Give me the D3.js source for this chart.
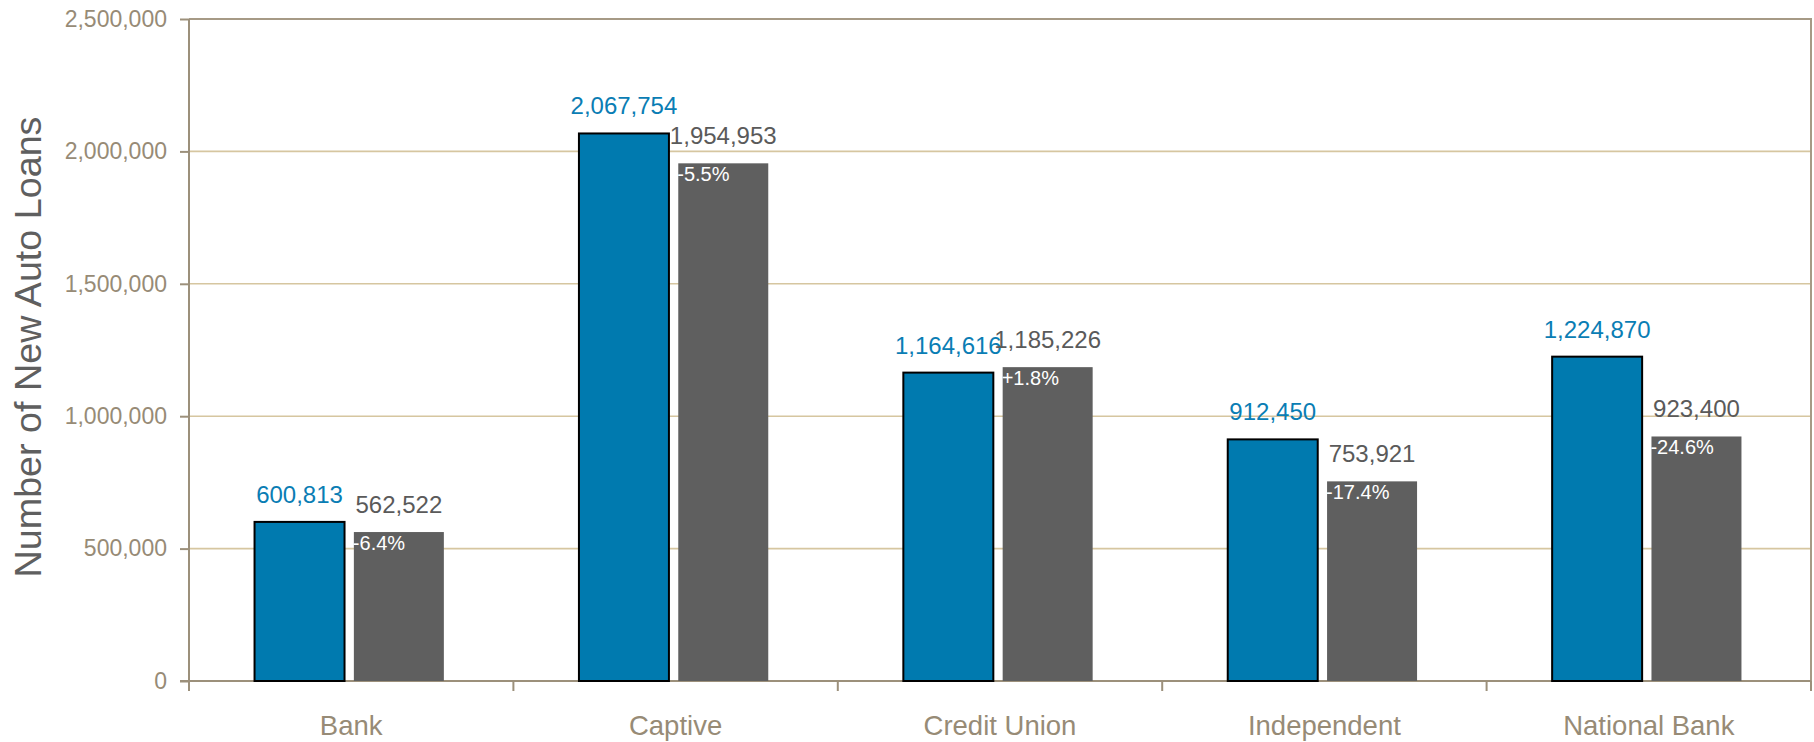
<!DOCTYPE html>
<html>
<head>
<meta charset="utf-8">
<script src="https://cdn.jsdelivr.net/npm/d3@7"></script>
<style>
    body { margin: 0; background: #fff; font-family: "Liberation Sans", Arial, sans-serif; }
    #chart-area { width: 1814px; height: 742px; }
    .axis path, .axis line { stroke: #9c907b; stroke-width: 2; }
    .axis text { fill: #978b76; font-family: "Liberation Sans", Arial, sans-serif; }
</style>
</head>
<body>
<div id="chart-area"></div>
<script>

// chart data
let categories = ["Bank", "Captive", "Credit Union", "Independent", "National Bank"];
let priorLoans = [600813, 2067754, 1164616, 912450, 1224870];
let currentLoans = [562522, 1954953, 1185226, 753921, 923400];
let yTicks = [0, 500000, 1000000, 1500000, 2000000, 2500000];

class LoanBars {

    constructor(parentElement) {
        this.parentElement = parentElement;
        this.initVis();
    }

    initVis() {
        let vis = this;

        vis.margin = {top: 19, right: 3, bottom: 61, left: 189};
        vis.width = 1814 - vis.margin.left - vis.margin.right;
        vis.height = 742 - vis.margin.top - vis.margin.bottom;

        vis.svg = d3.select("#" + vis.parentElement).append("svg")
            .attr("width", 1814)
            .attr("height", 742)
            .append("g")
            .attr("transform", "translate(" + vis.margin.left + "," + vis.margin.top + ")");

        // scales
        vis.x = d3.scaleBand()
            .domain(categories)
            .range([0, vis.width])
            .padding(0);

        vis.xInner = d3.scaleBand()
            .domain(["prior", "current"])
            .range([0, vis.x.bandwidth()])
            .paddingInner(0.094)
            .paddingOuter(0.68);

        vis.y = d3.scaleLinear()
            .domain([0, 2500000])
            .range([vis.height, 0]);

        // gridlines
        vis.svg.append("g")
            .attr("class", "grid")
            .selectAll("line")
            .data(yTicks.slice(1, -1))
            .enter().append("line")
            .attr("x1", 0)
            .attr("x2", vis.width)
            .attr("y1", d => vis.y(d))
            .attr("y2", d => vis.y(d))
            .attr("stroke", "#d6c6a0")
            .attr("stroke-width", 1.6);

        // frame top and right
        vis.svg.append("path")
            .attr("d", `M0,${vis.y(2500000)}H${vis.width}V${vis.height}`)
            .attr("fill", "none")
            .attr("stroke", "#a69a86")
            .attr("stroke-width", 2);

        // axes
        vis.yAxis = d3.axisLeft(vis.y)
            .tickValues(yTicks)
            .tickSize(9)
            .tickPadding(13)
            .tickFormat(d3.format(",d"));

        vis.yAxisGroup = vis.svg.append("g")
            .attr("class", "y-axis axis")
            .call(vis.yAxis);
        vis.yAxisGroup.select(".domain").remove();
        vis.yAxisGroup.append("line")
            .attr("y1", 0)
            .attr("y2", vis.height + 10);
        vis.yAxisGroup.selectAll("text")
            .style("font-size", "23px");

        vis.xAxisGroup = vis.svg.append("g")
            .attr("class", "x-axis axis")
            .attr("transform", "translate(0," + vis.height + ")");
        vis.xAxisGroup.append("line")
            .attr("x1", -9)
            .attr("x2", vis.width);
        vis.xAxisGroup.selectAll(".xtick")
            .data(d3.range(categories.length + 1))
            .enter().append("line")
            .attr("class", "xtick")
            .attr("x1", i => i * vis.x.step())
            .attr("x2", i => i * vis.x.step())
            .attr("y1", 0)
            .attr("y2", 10);
        vis.xAxisGroup.selectAll(".cat-label")
            .data(categories)
            .enter().append("text")
            .attr("class", "cat-label")
            .attr("x", d => vis.x(d) + vis.x.bandwidth() / 2)
            .attr("y", 54)
            .attr("text-anchor", "middle")
            .style("font-size", "27.5px")
            .text(d => d);

        // y axis title
        vis.svg.append("text")
            .attr("transform", `translate(${41 - vis.margin.left}, ${vis.height / 2 - 3}) rotate(-90)`)
            .attr("text-anchor", "middle")
            .attr("fill", "#5f5f5f")
            .style("font-size", "37.7px")
            .text("Number of New Auto Loans");

        vis.wrangleData();
    }

    wrangleData() {
        let vis = this;

        vis.displayData = categories.map((c, i) => ({
            category: c,
            prior: priorLoans[i],
            current: currentLoans[i],
            change: (currentLoans[i] - priorLoans[i]) / priorLoans[i]
        }));

        vis.updateVis();
    }

    updateVis() {
        let vis = this;
        let fmt = d3.format(",d");
        let pct = v => (v >= 0 ? "+" : "-") + Math.abs(v * 100).toFixed(1) + "%";

        let groups = vis.svg.selectAll(".cat-group")
            .data(vis.displayData)
            .enter().append("g")
            .attr("class", "cat-group")
            .attr("transform", d => `translate(${vis.x(d.category) - 2},0)`);

        // prior bars (blue, outlined)
        groups.append("rect")
            .attr("class", "bar prior")
            .attr("x", vis.xInner("prior"))
            .attr("y", d => vis.y(d.prior))
            .attr("width", vis.xInner.bandwidth())
            .attr("height", d => vis.height - vis.y(d.prior))
            .attr("fill", "#007aaf")
            .attr("stroke", "#000")
            .attr("stroke-width", 2);

        // current bars (grey)
        groups.append("rect")
            .attr("class", "bar current")
            .attr("x", vis.xInner("current"))
            .attr("y", d => vis.y(d.current))
            .attr("width", vis.xInner.bandwidth())
            .attr("height", d => vis.height - vis.y(d.current))
            .attr("fill", "#5f5f5f");

        // value labels
        groups.append("text")
            .attr("x", vis.xInner("prior") + vis.xInner.bandwidth() / 2)
            .attr("y", d => vis.y(d.prior) - 19)
            .attr("text-anchor", "middle")
            .attr("fill", "#0a7db4")
            .style("font-size", "24px")
            .text(d => fmt(d.prior));

        groups.append("text")
            .attr("x", vis.xInner("current") + vis.xInner.bandwidth() / 2)
            .attr("y", d => vis.y(d.current) - 19.5)
            .attr("text-anchor", "middle")
            .attr("fill", "#5a5a5a")
            .style("font-size", "24px")
            .text(d => fmt(d.current));

        // change labels inside grey bars
        groups.append("text")
            .attr("x", vis.xInner("current") - 1)
            .attr("y", d => vis.y(d.current) + 18)
            .attr("fill", "#fff")
            .style("font-size", "20px")
            .text(d => pct(d.change));
    }
}

let loanBars = new LoanBars("chart-area");

</script>
</body>
</html>
